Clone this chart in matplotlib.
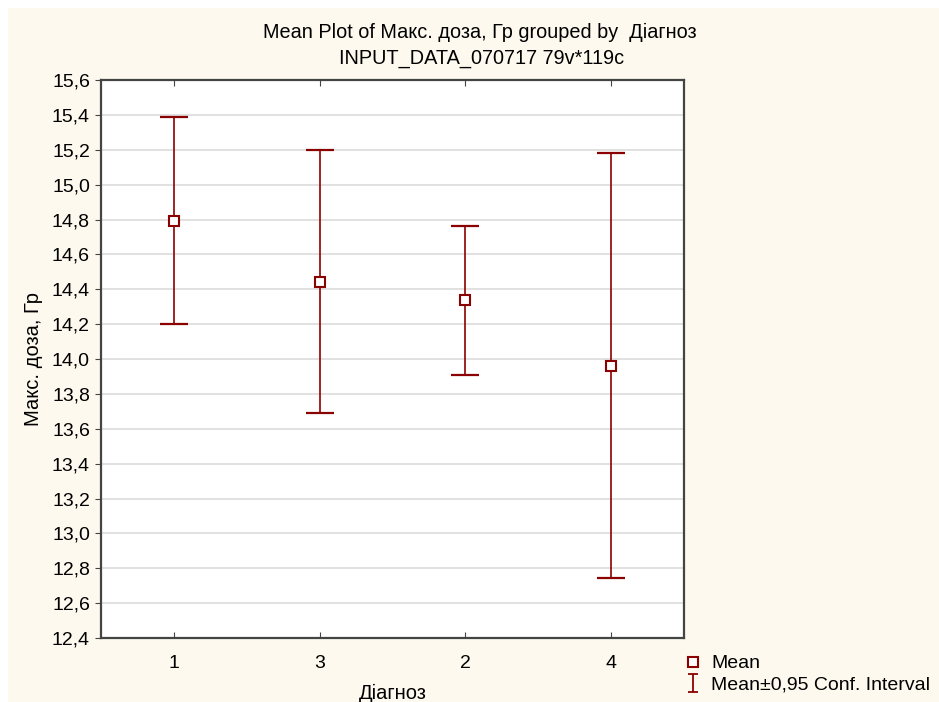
import matplotlib.pyplot as plt
import matplotlib.patches as mpatches
from matplotlib.lines import Line2D
from matplotlib.path import Path
import numpy as np

plt.rcParams['font.family'] = ['Liberation Sans', 'DejaVu Sans']

groups = ['1', '3', '2', '4']
means = [14.794, 14.444, 14.336, 13.961]
ci_low = [14.198, 13.689, 13.907, 12.744]
ci_high = [15.390, 15.199, 14.765, 15.179]
yticks = np.arange(12.4, 15.61, 0.2)

red = '#8b0000'
cream = '#fdf9ee'
fs = 14

fig = plt.figure(figsize=(9.39, 7.02), dpi=100)
fig.patch.set_facecolor('white')
fig.patches.append(mpatches.Rectangle((8/939, 0), 1, 1-8/702, transform=fig.transFigure,
                                      facecolor=cream, edgecolor='none', zorder=-10))

ax = fig.add_axes([101/939, 1-638/702, 583/939, 558/702])
ax.set_facecolor('white')

x = np.arange(1, len(groups)+1)
m = np.array(means)
err = [m - np.array(ci_low), np.array(ci_high) - m]
ax.errorbar(x, m, yerr=err, fmt='none', ecolor=red, elinewidth=1.2,
            capsize=10.4, capthick=1.6, zorder=3)
ax.plot(x, m, 's', mfc='white', mec=red, mew=1.5, ms=7, ls='none', zorder=4)

ax.set_xlim(0.5, 4.5)
ax.set_ylim(12.4, 15.6)
ax.set_xticks(x)
ax.set_xticklabels(groups)
ax.set_yticks(yticks)
ax.set_yticklabels([f'{v:.1f}'.replace('.', ',') for v in yticks])
ax.yaxis.grid(True, color='#dcdcdc', lw=1.2)
ax.set_axisbelow(True)
ax.tick_params(axis='x', direction='in', top=True, length=4, labelsize=fs, pad=12, color='#444444')
ax.tick_params(axis='y', direction='out', length=4, labelsize=fs, pad=4, color='#444444')
for s in ax.spines.values():
    s.set_color('#444444')
    s.set_linewidth(1.6)

ax.set_xlabel('Діагноз', fontsize=14.5, labelpad=9)
ax.set_ylabel('Макс. доза, Гр', fontsize=14.5, labelpad=6)

title_font = ['Liberation Sans Narrow', 'Liberation Sans', 'DejaVu Sans']
fig.text(480/939, 1-32/702, 'Mean Plot of Макс. доза, Гр grouped by  Діагноз',
         ha='center', va='center', fontsize=14.3, family=title_font)
fig.text(482/939, 1-58/702, 'INPUT_DATA_070717 79v*119c',
         ha='center', va='center', fontsize=14.3, family=title_font)

# legend icon for the confidence interval: an "I" shape
ibar = Path([(-0.55, 1), (0.55, 1), (0, 1), (0, -1), (-0.55, -1), (0.55, -1)],
            [Path.MOVETO, Path.LINETO, Path.MOVETO, Path.LINETO, Path.MOVETO, Path.LINETO])
ci_handle = Line2D([], [], marker=ibar, ms=13, mec=red, mew=1.3, ls='none')
mean_handle = Line2D([], [], marker='s', mfc='white', mec=red, mew=1.5, ms=7, ls='none')

fig.legend([mean_handle, ci_handle], ['Mean', 'Mean±0,95 Conf. Interval'], loc='upper left',
           bbox_to_anchor=(674/939, 1-645/702), frameon=False, fontsize=fs,
           handlelength=1.0, handletextpad=0.4, borderpad=0, labelspacing=0.2)

plt.savefig('out.png', dpi=100, facecolor=fig.get_facecolor())
